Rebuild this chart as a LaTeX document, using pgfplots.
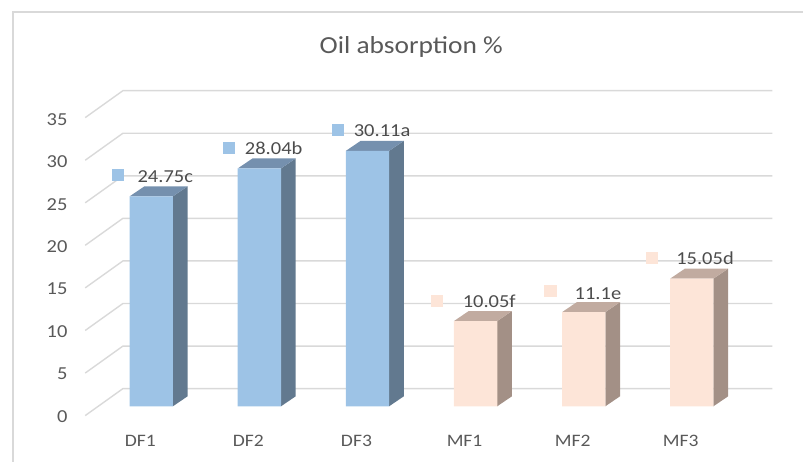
\documentclass[border=0pt]{standalone}
\usepackage{fontspec}
\setmainfont[FakeStretch=1.12]{Carlito}
\usepackage{pgfplots}
\pgfplotsset{compat=1.18}
\definecolor{gridc}{HTML}{D9D9D9}
\definecolor{txt}{HTML}{595959}
\definecolor{dfront}{HTML}{9DC3E6}
\definecolor{dside}{HTML}{62798F}
\definecolor{dtop}{HTML}{7590AE}
\definecolor{mfront}{HTML}{FDE5D8}
\definecolor{mside}{HTML}{A39086}
\definecolor{mtop}{HTML}{C1ABA0}
\begin{document}
\begin{tikzpicture}
\begin{axis}[
  scale only axis, width=804pt, height=462pt,
  xmin=-1.399, xmax=6.031, ymin=-6.514, ymax=47.90,
  clip=false,
  axis line style={draw=none},
  tick style={draw=none},
  axis x line*=bottom, axis y line*=left,
  xtick={0,1,2,3,4,5},
  xticklabels={DF1,DF2,DF3,MF1,MF2,MF3},
  ytick={0,5,...,35},
  /pgf/number format/assume math mode=true,
  tick label style={font=\fontsize{17.5}{20}\selectfont, text=txt},
  xticklabel style={xshift=-11pt, yshift=30pt},
  yticklabel style={anchor=east, font=\fontsize{18.3}{20}\selectfont, xshift=71pt, yshift=-10pt},
  title={Oil absorption \%},
  title style={at={(rel axis cs:0.512,0.885)}, anchor=center, font=\fontsize{24.5}{28}\selectfont, text=txt},
  unbounded coords=jump,
]
% chart border, top and left only
\addplot[gridc, line width=1.5pt] coordinates {(-1.279,-6.514) (-1.279,46.49) (6.031,46.49)};
% walls and floor lines
\addplot[gridc, line width=1.4pt] coordinates {
 (-0.611,-1.095) (-0.262,2.085) (5.745,2.085) (nan,nan)
 (-0.611,3.92) (-0.262,7.10) (5.745,7.10) (nan,nan)
 (-0.611,8.94) (-0.262,12.12) (5.745,12.12) (nan,nan)
 (-0.611,13.96) (-0.262,17.14) (5.745,17.14) (nan,nan)
 (-0.611,18.98) (-0.262,22.16) (5.745,22.16) (nan,nan)
 (-0.611,23.99) (-0.262,27.17) (5.745,27.17) (nan,nan)
 (-0.611,29.01) (-0.262,32.19) (5.745,32.19) (nan,nan)
 (-0.611,34.03) (-0.262,37.21) (5.745,37.21)
};
% side faces
\addplot[fill=dside, draw=none] coordinates {(0.2,0) (0.336,1.178) (0.336,25.928) (0.2,24.75)} --cycle;
\addplot[fill=dside, draw=none] coordinates {(1.2,0) (1.336,1.178) (1.336,29.218) (1.2,28.04)} --cycle;
\addplot[fill=dside, draw=none] coordinates {(2.2,0) (2.336,1.178) (2.336,31.288) (2.2,30.11)} --cycle;
\addplot[fill=mside, draw=none] coordinates {(3.2,0) (3.336,1.178) (3.336,11.228) (3.2,10.05)} --cycle;
\addplot[fill=mside, draw=none] coordinates {(4.2,0) (4.336,1.178) (4.336,12.278) (4.2,11.1)} --cycle;
\addplot[fill=mside, draw=none] coordinates {(5.2,0) (5.336,1.178) (5.336,16.228) (5.2,15.05)} --cycle;
% top faces
\addplot[fill=dtop, draw=none] coordinates {(-0.2,24.75) (0.2,24.75) (0.336,25.928) (-0.064,25.928)} --cycle;
\addplot[fill=dtop, draw=none] coordinates {(0.8,28.04) (1.2,28.04) (1.336,29.218) (0.936,29.218)} --cycle;
\addplot[fill=dtop, draw=none] coordinates {(1.8,30.11) (2.2,30.11) (2.336,31.288) (1.936,31.288)} --cycle;
\addplot[fill=mtop, draw=none] coordinates {(2.8,10.05) (3.2,10.05) (3.336,11.228) (2.936,11.228)} --cycle;
\addplot[fill=mtop, draw=none] coordinates {(3.8,11.1) (4.2,11.1) (4.336,12.278) (3.936,12.278)} --cycle;
\addplot[fill=mtop, draw=none] coordinates {(4.8,15.05) (5.2,15.05) (5.336,16.228) (4.936,16.228)} --cycle;
% front faces
\addplot[ybar, bar width=43.4pt, bar shift=0pt, fill=dfront, draw=none] coordinates {(0,24.75) (1,28.04) (2,30.11)};
\addplot[ybar, bar width=43.4pt, bar shift=0pt, fill=mfront, draw=none] coordinates {(3,10.05) (4,11.1) (5,15.05)};
% data label keys
\addplot[only marks, mark=square*, mark size=5.6pt, color=dfront, mark options={draw=dfront, fill=dfront, line width=0pt}] coordinates {(-0.309,27.23) (0.722,30.47) (1.725,32.59)};
\addplot[only marks, mark=square*, mark size=5.6pt, color=mfront, mark options={draw=mfront, fill=mfront, line width=0pt}] coordinates {(2.644,12.45) (3.693,13.55) (4.631,17.51)};
% data labels
\tikzset{dl/.style={anchor=base west, inner sep=0pt, text=txt!85!black, font=\fontsize{18.3}{20}\selectfont}}
\node[dl] at (axis cs:-0.128,26.43) {24.75c};
\node[dl] at (axis cs:0.865,29.65) {28.04b};
\node[dl] at (axis cs:1.872,31.77) {30.11a};
\node[dl] at (axis cs:2.880,11.63) {10.05f};
\node[dl] at (axis cs:3.915,12.65) {11.1e};
\node[dl] at (axis cs:4.855,16.69) {15.05d};
\end{axis}
\end{tikzpicture}
\end{document}
